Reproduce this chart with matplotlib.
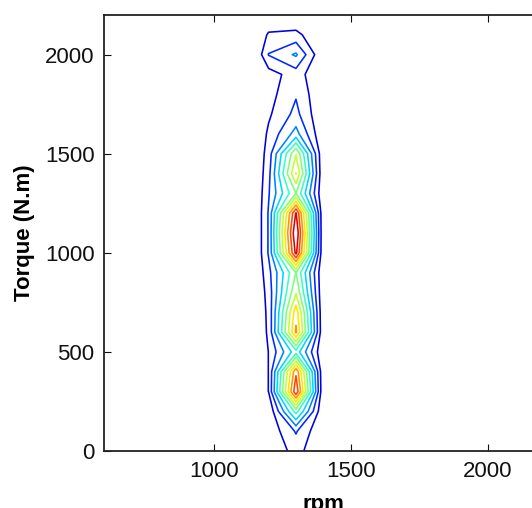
import numpy as np
import matplotlib
matplotlib.use("Agg")
import matplotlib.pyplot as plt

# Engine operating-point density: torque bins (rows) x speed bins (columns)
torque = [0, 100, 200, 300, 400, 500, 600, 700, 800, 900, 1000, 1100,
          1200, 1300, 1400, 1500, 1600, 1700, 1800, 1900, 2000, 2100, 2200]
rpm = [1150, 1200, 1300, 1400]

z_1150 = [0, 0, 0, 0, 0, 0, 0, 0, 0, 0, 0, 0,
          0, 0, 0, 0, 0, 0, 0, 0, 0, 0, 0]
z_1200 = [0.1, 0.23, 0.1, 1.02, 1.02, 1.02, 1.19, 1.25, 1.39, 1.67, 2.1, 2.1,
          2.1, 1.9, 1.67, 1.47, 1.19, 0.84, 0.61, 0.54, 2.05, 1.15, 0]
z_1300 = [1.4, 2.1, 5.4, 10.8, 9.8, 4.6, 9.2, 8.6, 6.9, 6.03, 11.3, 12.0,
          11.1, 6.02, 8.03, 6.95, 3.4, 2.3, 1.9, 1.5, 3.15, 1.3, 0]
z_1400 = [0, 0, 0, 0, 0, 0, 0, 0, 0, 0, 0, 0,
          0, 0, 0, 0, 0, 0, 0, 0, 0, 0, 0]

levels = [1, 2, 3, 4, 5, 6, 7, 8, 9, 10, 11]

Z = np.column_stack([z_1150, z_1200, z_1300, z_1400])

plt.rcParams["font.family"] = ["Liberation Sans", "DejaVu Sans"]

fig = plt.figure(figsize=(5.32, 5.08), dpi=100)
ax = fig.add_axes([0.196, 0.1122, 0.8236, 0.8583])

ax.contour(rpm, torque, Z, levels=levels, cmap="jet", vmin=0, vmax=12,
           linewidths=1.15)

ax.set_xlim(600, 2200)
ax.set_ylim(0, 2200)
ax.set_xticks([1000, 1500, 2000])
ax.set_yticks([0, 500, 1000, 1500, 2000])
ax.tick_params(direction="in", top=True, right=True, length=5, width=0.8,
               labelsize=16, pad=7, colors="#111111")
for s in ax.spines.values():
    s.set_linewidth(1.3)
    s.set_color("#222222")

ax.set_xlabel("rpm", fontsize=16, fontweight="bold", labelpad=9)
ax.set_ylabel("Torque (N.m)", fontsize=16, fontweight="bold", labelpad=7)

fig.savefig("out.png", dpi=100)
